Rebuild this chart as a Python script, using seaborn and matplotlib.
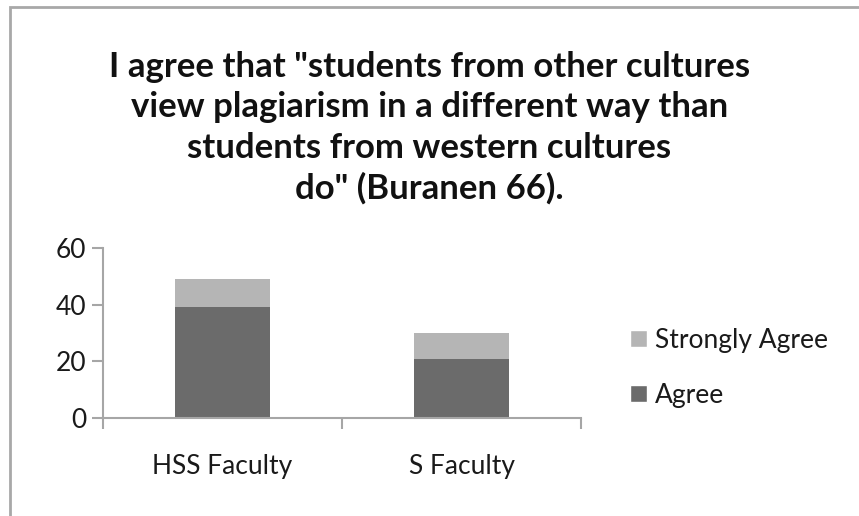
import matplotlib
matplotlib.use("Agg")
import matplotlib.pyplot as plt
import seaborn as sns
import pandas as pd
from matplotlib.patches import Patch, Rectangle

# data
faculties = ["HSS Faculty", "S Faculty"]
agree = [39, 21]
strongly_agree = [10, 9]
title = ('I agree that "students from other cultures\n'
         'view plagiarism in a different way than\n'
         'students from western cultures\n'
         'do" (Buranen 66).')

sns.set_theme(style="white")
plt.rcParams['font.family'] = ['Lato', 'DejaVu Sans']

df = pd.DataFrame({"faculty": faculties, "agree": agree,
                   "strongly": strongly_agree})
df["total"] = df["agree"] + df["strongly"]

dark = "#6b6b6b"
light = "#b5b5b5"
axis_col = "#a6a6a6"

fig = plt.figure(figsize=(8.59, 5.16), dpi=100)
ax = fig.add_axes([0.1199, 0.1899, 0.5565, 0.3295])

sns.barplot(data=df, x="faculty", y="total", color=light, width=0.4,
            saturation=1, linewidth=0, ax=ax)
sns.barplot(data=df, x="faculty", y="agree", color=dark, width=0.4,
            saturation=1, linewidth=0, ax=ax)

ax.set_xlim(-0.5, 1.5)
ax.set_ylim(0, 60)
ax.set_yticks([0, 20, 40, 60])
ax.set_xlabel("")
ax.set_ylabel("")
for s in ["top", "right"]:
    ax.spines[s].set_visible(False)
for s in ["left", "bottom"]:
    ax.spines[s].set_color(axis_col)
    ax.spines[s].set_linewidth(1.5)

ax.set_xticks([-0.5, 0.5, 1.5], minor=True)
ax.tick_params(axis="x", which="major", length=0, pad=26, labelsize=19,
               labelcolor="#1a1a1a")
ax.tick_params(axis="x", which="minor", length=8, width=1.5,
               color=axis_col, direction="out", bottom=True)
ax.tick_params(axis="y", length=8, width=1.5, color=axis_col,
               direction="out", left=True, pad=4, labelsize=19,
               labelcolor="#1a1a1a")

fig.text(0.5, 0.752, title, ha="center", va="center", fontsize=25,
         fontweight="bold", linespacing=1.32, color="#111111")

handles = [Patch(facecolor=light, label="Strongly Agree"),
           Patch(facecolor=dark, label="Agree")]
fig.legend(handles=handles, loc="center left", bbox_to_anchor=(0.733, 0.287),
           frameon=False, fontsize=19, handlelength=0.65, handleheight=0.6,
           handletextpad=0.3, labelspacing=1.15, borderpad=0,
           borderaxespad=0, labelcolor="#1a1a1a")

# outer chart border
fig.patches.append(Rectangle((0.0122, -0.1), 1.2, 1.0855,
                             transform=fig.transFigure, fill=False,
                             edgecolor="#a8a8a8", linewidth=2))

fig.savefig("out.png", dpi=100)
